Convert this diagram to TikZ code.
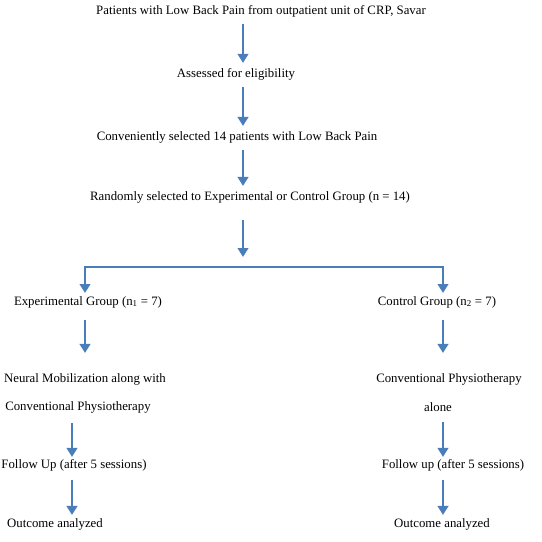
\documentclass[tikz,border=0pt]{standalone}
\usepackage{fontspec}
\setmainfont{Liberation Serif}
\usetikzlibrary{arrows.meta}
\definecolor{flowblue}{RGB}{74,126,187}
\tikzset{
	txt/.style={inner sep=0pt, font=\fontsize{12.8}{15}\selectfont},
	flow/.style={draw=flowblue, line width=2.6pt, -{Triangle[length=9pt,width=10.5pt]}, shorten <=7pt, shorten >=5pt},
}
\begin{document}
\begin{tikzpicture}[x=1pt, y=-1pt]

		\useasboundingbox (0,0) rectangle (542,542);

		% define point

		\coordinate (mx)   at (243,0);

		\coordinate (colL) at (85,0);

		\coordinate (colR) at (443,0);

		\coordinate (lowL) at (72,0);

		\coordinate (br)   at (243,267);

		% text

		\node[txt] (title)  at (261,11)  {Patients with Low Back Pain from outpatient unit of CRP, Savar};

		\node[txt] (assess) at (236,74)  {Assessed for eligibility};

		\node[txt] (select) at (237,137) {Conveniently selected 14 patients with Low Back Pain};

		\node[txt] (rand)   at (250,197) {Randomly selected to Experimental or Control Group (n = 14)};

		\node[txt] (expL)   at (88,302)  {Experimental Group (n\textsubscript{1} = 7)};

		\node[txt] (ctrl)   at (437,302) {Control Group (n\textsubscript{2} = 7)};

		\node[txt] (neuL)   at (85,379)  {Neural Mobilization along with};

		\node[txt] (conR)   at (449,379) {Conventional Physiotherapy};

		\node[txt] (conL)   at (78,407)  {Conventional Physiotherapy};

		\node[txt] (alone)  at (438,407) {alone};

		\node[txt] (folL)   at (74,465)  {Follow Up (after 5 sessions)};

		\node[txt] (folR)   at (453,465) {Follow up (after 5 sessions)};

		\node[txt] (outL)   at (55,524)  {Outcome analyzed};

		\node[txt] (outR)   at (442,524) {Outcome analyzed};

		% arrows

		\draw[flow] (title.south -| mx) -- (assess.north -| mx);

		\draw[flow] (assess.south -| mx) -- (select.north -| mx);

		\draw[flow] (select.south -| mx) -- (rand.north -| mx);

		\draw[flow, shorten <=17pt, shorten >=10pt] (rand.south -| mx) -- (br);

		\draw[flow, shorten <=0pt, shorten >=3pt] (br) -| (expL.north -| colL);

		\draw[flow, shorten <=0pt, shorten >=3pt] (br) -| (ctrl.north -| colR);

		\draw[flow, shorten <=12pt, shorten >=20pt] (expL.south -| colL) -- (neuL.north -| colL);

		\draw[flow, shorten <=12pt, shorten >=20pt] (ctrl.south -| colR) -- (conR.north -| colR);

		\draw[flow, shorten <=10pt, shorten >=2pt] (conL.south -| lowL) -- (folL.north -| lowL);

		\draw[flow, shorten <=10pt, shorten >=2pt] (alone.south -| colR) -- (folR.north -| colR);

		\draw[flow, shorten <=9pt, shorten >=3pt] (folL.south -| lowL) -- (outL.north -| lowL);

		\draw[flow, shorten <=9pt, shorten >=3pt] (folR.south -| colR) -- (outR.north -| colR);

	\end{tikzpicture}
\end{document}
